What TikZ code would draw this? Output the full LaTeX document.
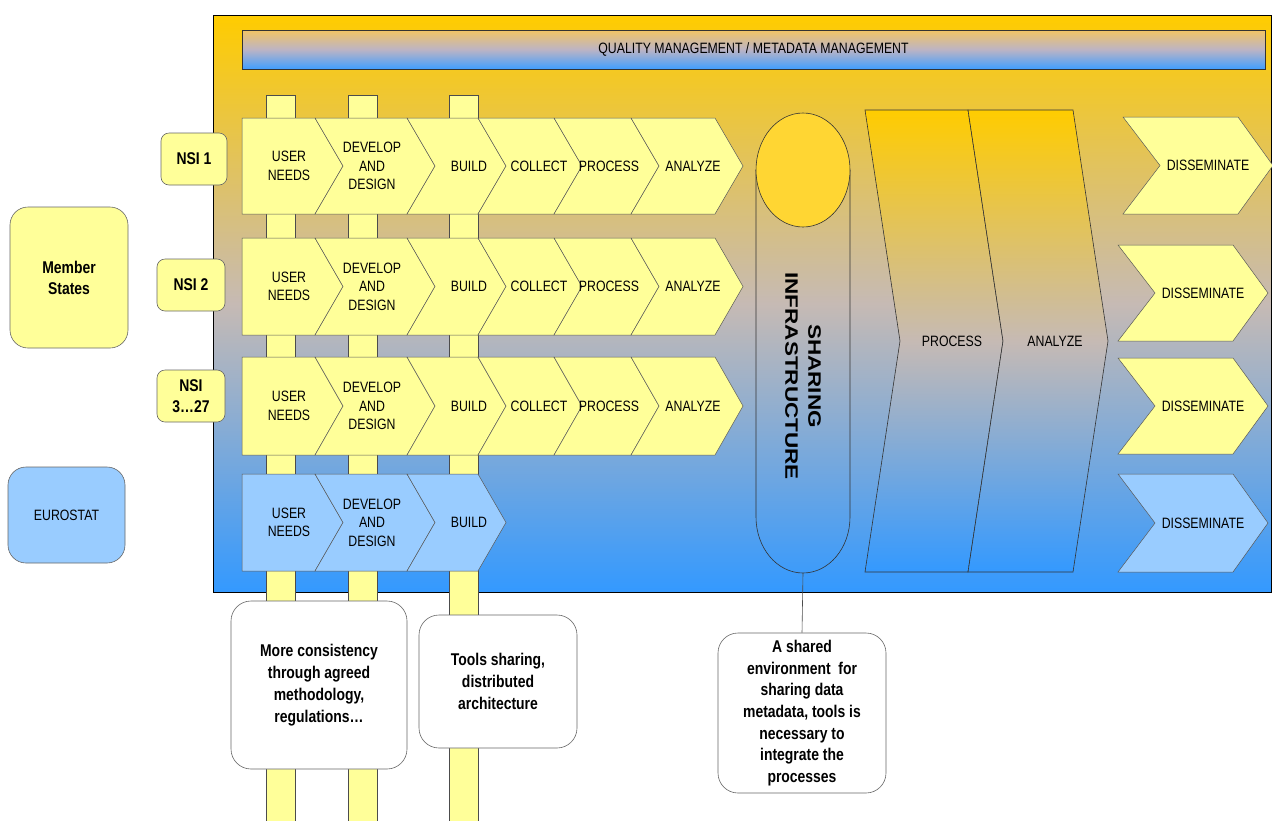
\documentclass[tikz,border=0pt]{standalone}
\usepackage{fontspec}
\setmainfont[FakeStretch=0.82]{Liberation Sans}
\newfontfamily\widefont[FakeStretch=1.25]{Liberation Sans}
\definecolor{paleyellow}{RGB}{255,255,153}
\definecolor{paleblue}{RGB}{153,204,255}
\definecolor{gold}{RGB}{255,204,0}
\definecolor{skyblue}{RGB}{51,153,255}
\definecolor{dusk}{RGB}{198,186,180}
\definecolor{captop}{RGB}{255,214,51}
\tikzset{
  backdrop/.style={draw=black, line width=0.8pt, top color=gold, bottom color=skyblue, middle color=dusk},
  banner/.style={draw=black!80, line width=0.8pt, top color={rgb,255:red,242;green,196;blue,100}, bottom color={rgb,255:red,64;green,158;blue,255}, middle color={rgb,255:red,188;green,180;blue,196}, font=\fontsize{15}{18}\selectfont},
  pipe/.style={draw=black!70, line width=0.5pt, fill=paleyellow},
  yellowstage/.style={draw=black!65, line width=0.5pt, fill=paleyellow},
  bluestage/.style={draw=black!65, line width=0.5pt, fill=paleblue},
  bigstage/.style={draw=black!80, line width=0.6pt, top color=gold, bottom color=skyblue, middle color=dusk},
  lbl/.style={align=center, inner sep=0pt, font=\fontsize{15}{18.5}\selectfont},
  nsibox/.style={draw=black!60, line width=0.6pt, fill=paleyellow, rounded corners=8pt, align=center, minimum height=52, font=\bfseries\fontsize{17}{21}\selectfont},
  groupbox/.style={draw=black!60, line width=0.6pt, rounded corners=18pt, align=center},
  callout/.style={draw=black!60, line width=0.6pt, fill=white, rounded corners=20pt, align=center, font=\bfseries\fontsize{17}{22}\selectfont},
}
\newcommand{\tipd}{28}
\newcommand{\stage}[9]{%
  \draw[#2] (#3,#5) -- (#4,#5) -- ({#4+\tipd},{(#5+#6)/2}) -- (#4,#6) -- (#3,#6) -- ({#3+#7},{(#5+#6)/2}) -- cycle;
  \node[lbl] (#1) at (#8,{(#5+#6)/2}) {#9};}

\begin{document}
\begin{tikzpicture}[x=1pt,y=-1pt]
  \useasboundingbox (0,0) rectangle (1272,820);
  \draw[backdrop] (213,15) rectangle (1271.5,592);
  \node[banner, minimum width=1023, minimum height=39] (qm) at (753.5,49.5) {QUALITY MANAGEMENT / METADATA MANAGEMENT};
  \foreach \x in {266,348,449} \draw[pipe] (\x,95) rectangle (\x+29,825);

  \foreach \r/\t/\b in {1/118/214, 2/238/335, 3/357/455} {
    \stage{needs\r}{yellowstage}{242}{315}{\t}{\b}{0}{289}{USER\\NEEDS}
    \stage{design\r}{yellowstage}{315}{407}{\t}{\b}{28}{372}{DEVELOP\\AND\\DESIGN}
    \stage{build\r}{yellowstage}{407}{478}{\t}{\b}{28}{469}{BUILD}
    \stage{collect\r}{yellowstage}{478}{554}{\t}{\b}{28}{539}{COLLECT}
    \stage{process\r}{yellowstage}{554}{631}{\t}{\b}{28}{609}{PROCESS}
    \stage{analyze\r}{yellowstage}{631}{715}{\t}{\b}{28}{693}{ANALYZE}
  }
  \stage{needs4}{bluestage}{242}{315}{474}{571}{0}{289}{USER\\NEEDS}
  \stage{design4}{bluestage}{315}{407}{474}{571}{28}{372}{DEVELOP\\AND\\DESIGN}
  \stage{build4}{bluestage}{407}{478}{474}{571}{28}{469}{BUILD}

  \draw[line width=0.6pt, draw=black!80] (756,170) -- (756,517) arc[start angle=180, end angle=0, x radius=47, y radius=56] -- (850,170);
  \draw[line width=0.6pt, draw=black!80, fill=captop] (803,170) ellipse[x radius=47, y radius=57];
  \node[rotate=-90, align=center, font=\widefont\bfseries\fontsize{18}{23}\selectfont] (share) at (803,376) {SHARING\\INFRASTRUCTURE};
  \coordinate (cylbot) at (803,573);

  \renewcommand{\tipd}{35}
  \stage{bigprocess}{bigstage}{865}{968}{110}{572}{35}{952}{PROCESS}
  \stage{biganalyze}{bigstage}{968}{1073}{110}{572}{35}{1055}{ANALYZE}
  \stage{dissem1}{yellowstage}{1123}{1238}{117}{214}{37}{1208}{DISSEMINATE}
  \foreach \r/\t/\b/\s in {2/245/341/yellowstage, 3/358/454/yellowstage, 4/474/572/bluestage} {
    \stage{dissem\r}{\s}{1118}{1233}{\t}{\b}{37}{1203}{DISSEMINATE}
  }

  \node[groupbox, fill=paleyellow, minimum width=118, minimum height=141, font=\bfseries\fontsize{17}{21}\selectfont] (member) at (69,277.5) {Member\\States};
  \node[groupbox, fill=paleblue, minimum width=117, minimum height=96, font=\fontsize{15}{18}\selectfont] (eurostat) at (66.5,515) {EUROSTAT};
  \node[nsibox, minimum width=66] (nsi1) at (194,159) {NSI 1};
  \node[nsibox, minimum width=68] (nsi2) at (191,285) {NSI 2};
  \node[nsibox, minimum width=68] (nsi3) at (191,396) {NSI\\3…27};

  \node[callout, minimum width=176, minimum height=168] (consist) at (319,685) {More consistency\\through agreed\\methodology,\\regulations…};
  \node[callout, minimum width=158, minimum height=133] (tools) at (498,681.5) {Tools sharing,\\distributed\\architecture};
  \node[callout, minimum width=168, minimum height=160, font=\bfseries\fontsize{17}{21.7}\selectfont] (shared) at (802,713) {A shared\\environment\ \ for\\sharing data\\metadata, tools is\\necessary to\\integrate the\\processes};
  \draw[line width=0.6pt, draw=black!70] (cylbot) -- (shared.north);
\end{tikzpicture}
\end{document}
